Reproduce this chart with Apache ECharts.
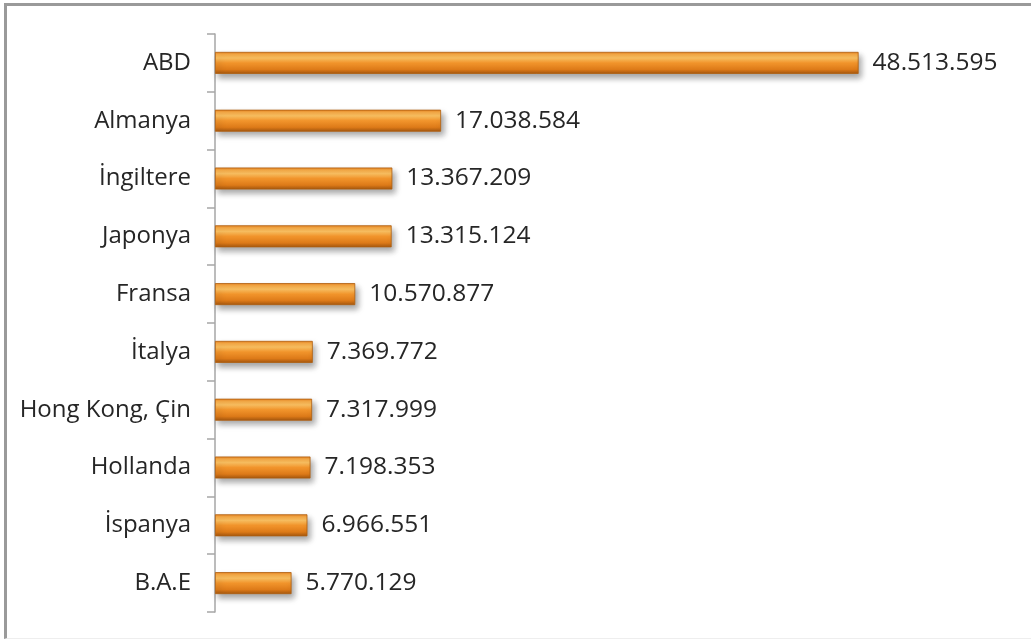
<!DOCTYPE html>
<html><head><meta charset="utf-8">
<script src="https://cdn.jsdelivr.net/npm/echarts@6/dist/echarts.min.js"></script>
<style>
html,body{margin:0;padding:0;background:#fff;}
#frame{position:absolute;left:4px;top:3px;width:1040px;height:636px;border-top:3px solid #9a9a9a;border-left:3px solid #9a9a9a;border-bottom:1px solid #eeeeee;box-sizing:border-box;}
#c{position:absolute;left:0;top:0;width:1031px;height:641px;}
</style></head>
<body>
<div id="frame"></div>
<div id="c"></div>
<script>
const categories = ["ABD","Almanya","İngiltere","Japonya","Fransa","İtalya","Hong Kong, Çin","Hollanda","İspanya","B.A.E"];
const values = [48513595,17038584,13367209,13315124,10570877,7369772,7317999,7198353,6966551,5770129];

function fmt(v){ return String(v).replace(/\B(?=(\d{3})+(?!\d))/g, "."); }

const chart = echarts.init(document.getElementById('c'), null, {renderer:'canvas'});
chart.setOption({
  animation:false,
  grid:{left:215, right:20, top:34, bottom:29, containLabel:false},
  xAxis:{type:'value', min:0, max:60000000, show:false},
  yAxis:{
    type:'category', data:categories, inverse:true,
    axisLine:{show:true, lineStyle:{color:'#a6a6a6', width:1.5}},
    axisTick:{show:true, length:8, lineStyle:{color:'#a6a6a6', width:1.5}},
    axisLabel:{color:'#262626', fontFamily:'"Open Sans", sans-serif', fontSize:24, margin:24},
    splitLine:{show:false}
  },
  series:[{
    type:'bar', data:values, barWidth:22,
    itemStyle:{
      color:new echarts.graphic.LinearGradient(0,0,0,1,[
        {offset:0, color:'#e5801f'},
        {offset:0.12, color:'#f8ac48'},
        {offset:0.28, color:'#fdc262'},
        {offset:0.5, color:'#f2952c'},
        {offset:0.8, color:'#dd7a18'},
        {offset:1, color:'#a3560f'}
      ]),
      borderColor:'#b0600f', borderWidth:0.8,
      shadowColor:'rgba(0,0,0,0.35)', shadowBlur:6, shadowOffsetX:3, shadowOffsetY:4
    },
    label:{show:true, position:'right', distance:14, color:'#262626',
      fontFamily:'"Open Sans", sans-serif', fontSize:24.5,
      formatter:p=>fmt(p.value)}
  }]
});
</script>
</body></html>
